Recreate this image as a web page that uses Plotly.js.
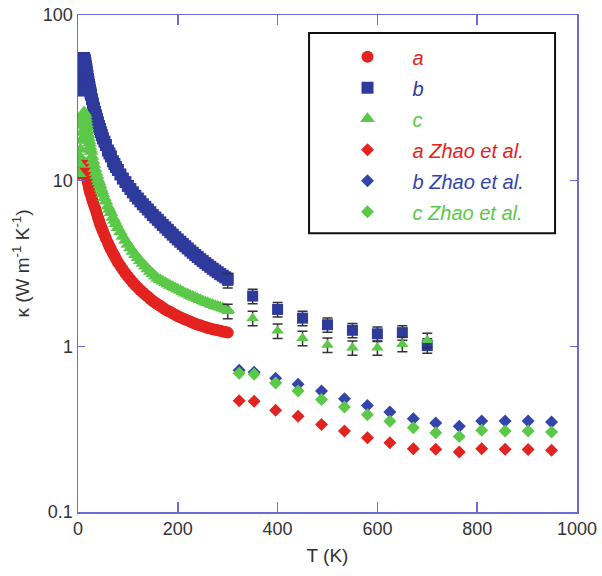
<!DOCTYPE html>
<html><head><meta charset="utf-8">
<script src="https://cdn.plot.ly/plotly-3.0.1.min.js"></script>
<style>body{margin:0;background:#fff}#chart{width:602px;height:576px}</style>
</head><body><div id="chart"></div>
<script>
// ---- data ----
const tLow = [2,3,4,5,6,7,8,9,10,11,12,13,14,15,16,17,18,19,20,21,22,23,24,25,26,28,30,32,34,36,38,40,
  42,44,46,48,50,53,56,60,63,66,70,73,76,80,85,90,95,
  100,105,110,115,120,125,130,135,140,145,150,155,160,165,170,175,180,185,190,195,200,
  205,210,215,220,225,230,235,240,245,250,255,260,265,270,275,280,285,290,295,300];
const kA = [11.0,11.1,11.3,11.5,11.8,12.1,12.5,12.7,12.8,12.7,12.6,12.3,12.0,11.6,11.2,10.8,10.4,10.0,9.7,9.4,9.1,8.85,8.6,8.4,8.2,7.8,7.45,7.15,6.85,6.6,6.3,6.0,
  5.75,5.5,5.3,5.12,4.95,4.7,4.48,4.2,4.02,3.86,3.65,3.52,3.38,3.22,3.05,2.9,2.76,
  2.64,2.53,2.43,2.34,2.26,2.18,2.11,2.05,1.99,1.93,1.88,1.83,1.79,1.75,1.71,1.67,1.64,1.61,1.58,1.55,1.52,
  1.50,1.47,1.45,1.43,1.41,1.39,1.37,1.35,1.34,1.32,1.31,1.29,1.28,1.27,1.26,1.25,1.24,1.23,1.22,1.21];
const kB = [35,36,38,41,44,47,50,52,54,55,55,54,53,51,49,47,45,43,41,39.5,38,36.5,35.2,34,33,31,29.2,27.5,26,24.8,23.6,22.5,
  21.4,20.5,19.6,18.8,18,17.2,16.4,15.2,14.6,14,13.1,12.6,12.1,11.6,10.9,10.3,9.8,
  9.3,8.9,8.5,8.1,7.8,7.5,7.2,6.95,6.7,6.45,6.2,6.0,5.8,5.6,5.4,5.22,5.05,4.88,4.72,4.56,4.42,
  4.28,4.15,4.02,3.9,3.78,3.67,3.56,3.46,3.36,3.27,3.18,3.10,3.02,2.94,2.87,2.80,2.73,2.67,2.61,2.56];
const kC = [11,12.5,14,15.5,17.5,19.5,21.5,23,24.5,25.6,26,25.6,25,24,23,22,21,20,19,18.2,17.5,16.8,16.1,15.5,15,14,13.2,12.5,11.8,11.2,10.7,10.2,
  9.8,9.4,9.0,8.65,8.3,7.9,7.5,7.0,6.7,6.4,6.0,5.75,5.5,5.2,4.9,4.6,4.35,
  4.12,3.92,3.74,3.57,3.42,3.28,3.16,3.04,2.93,2.83,2.74,2.65,2.57,2.52,2.47,2.42,2.37,2.33,2.29,2.25,2.21,
  2.17,2.13,2.09,2.06,2.03,2.00,1.97,1.94,1.91,1.88,1.85,1.83,1.80,1.78,1.76,1.74,1.72,1.70,1.68,1.66];

const tHigh = [300,350,400,450,500,550,600,650,700];
const kBHigh = [2.5,2.01,1.67,1.48,1.35,1.25,1.19,1.21,1.01];
const kCHigh = [1.63,1.48,1.24,1.12,1.02,0.98,0.98,1.03,1.09];
const errPct = 10;

const tZhao = [323,353,396,441,488,534,580,625,672,717,764,809,856,902,949];
const kAZhao = [0.47,0.466,0.411,0.378,0.338,0.308,0.281,0.262,0.241,0.239,0.230,0.241,0.239,0.238,0.236];
const kBZhao = [0.716,0.697,0.641,0.590,0.537,0.483,0.440,0.401,0.366,0.344,0.329,0.354,0.354,0.354,0.349];
const kCZhao = [0.687,0.678,0.60,0.537,0.477,0.430,0.387,0.353,0.323,0.301,0.286,0.311,0.308,0.308,0.304];

const names = ['a','b','c','a Zhao et al.','b Zhao et al.','c Zhao et al.'];
const xTicks = [0,200,400,600,800,1000];
const yTicks = [0.1,1,10,100];
const yTickText = ['0.1','1','10','100'];

// ---- style ----
const RED='#e3231f', BLUE='#2e3a9c', GREEN='#5cc84a', BLUE2='#3344aa';
const lg = (n,c)=>'<span style="color:'+c+'">'+n+'</span>';

const traces = [
  {x:tLow,y:kA,mode:'markers',name:lg(names[0],RED),legendgroup:'g1',
   marker:{symbol:'circle',size:12,color:RED}},
  {x:tLow,y:kB,mode:'markers',name:lg(names[1],BLUE),legendgroup:'g2',
   marker:{symbol:'square',size:12,color:BLUE}},
  {x:tLow,y:kC,mode:'markers',name:lg(names[2],GREEN),legendgroup:'g3',
   marker:{symbol:'triangle-up',size:13,color:GREEN}},
  {x:tHigh,y:kBHigh,mode:'markers',showlegend:false,legendgroup:'g2',
   marker:{symbol:'square',size:11,color:BLUE},
   error_y:{type:'percent',value:errPct,color:'#333',thickness:1.5,width:5}},
  {x:tHigh,y:kCHigh,mode:'markers',showlegend:false,legendgroup:'g3',
   marker:{symbol:'triangle-up',size:11,color:GREEN},
   error_y:{type:'percent',value:errPct,color:'#333',thickness:1.5,width:5}},
  {x:tZhao,y:kAZhao,mode:'markers',name:lg(names[3],RED),legendgroup:'g4',
   marker:{symbol:'diamond',size:10,color:RED}},
  {x:tZhao,y:kBZhao,mode:'markers',name:lg(names[4],BLUE2),legendgroup:'g5',
   marker:{symbol:'diamond',size:10,color:BLUE2}},
  {x:tZhao,y:kCZhao,mode:'markers',name:lg(names[5],GREEN),legendgroup:'g6',
   marker:{symbol:'diamond',size:10,color:GREEN}}
];

const AX='#6b6bd0';
const FONT='"Liberation Sans", Arial, sans-serif';
const layout = {
  width:602,height:576,
  margin:{l:78,r:25,t:15,b:64},
  paper_bgcolor:'#fff',plot_bgcolor:'#fff',
  font:{family:FONT,size:18,color:'#333'},
  showlegend:true,
  legend:{x:0.49,y:0.955,xanchor:'left',yanchor:'top',bgcolor:'rgba(0,0,0,0)',
    font:{family:FONT,size:20,style:'italic'},traceorder:'grouped',tracegroupgap:2,itemwidth:80},
  xaxis:{range:[0,1000],tickvals:xTicks,ticktext:xTicks.map(String),ticks:'inside',ticklen:10,
    tickcolor:AX,tickwidth:1.5,showline:true,linecolor:AX,linewidth:1.5,mirror:'ticks',
    showgrid:false,zeroline:false,tickfont:{size:18,color:'#333'},
    title:{text:'T (K)',font:{size:19,color:'#333'},standoff:10}},
  yaxis:{type:'log',range:[-1,2],tickvals:yTicks,ticktext:yTickText,ticks:'inside',ticklen:7,
    tickcolor:AX,tickwidth:1.5,showline:true,linecolor:AX,linewidth:1.5,mirror:'ticks',
    showgrid:false,zeroline:false,tickfont:{size:18,color:'#333'},
    title:{text:'κ (W m<sup>-1</sup> K<sup>-1</sup>)',font:{size:19,color:'#333'},standoff:8}},
  shapes:[{type:'rect',xref:'paper',yref:'paper',x0:0.463,x1:0.956,y0:0.561,y1:0.964,
    line:{color:'#111',width:2},fillcolor:'rgba(0,0,0,0)'}]
};
Plotly.newPlot('chart',traces,layout,{displayModeBar:false,staticPlot:true});
</script></body></html>
